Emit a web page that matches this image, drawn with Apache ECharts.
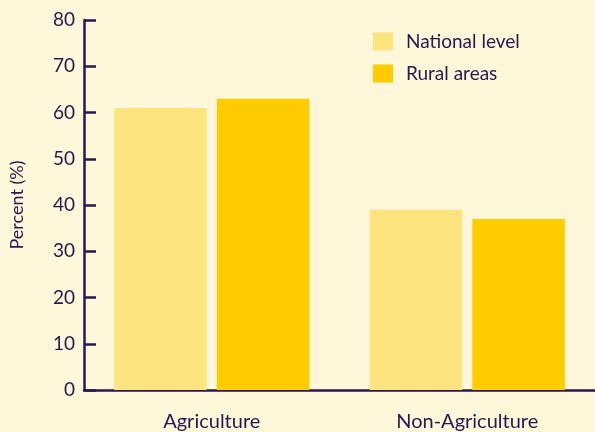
<!DOCTYPE html>
<html>
<head>
<meta charset="utf-8">
<script src="https://cdn.jsdelivr.net/npm/echarts@6/dist/echarts.min.js"></script>
<style>
html,body{margin:0;padding:0;background:#FFF7DA;}
#chart{width:595px;height:432px;}
</style>
</head>
<body>
<div id="chart"></div>
<script>
const categories = ['Agriculture', 'Non-Agriculture'];
const seriesNames = ['National level', 'Rural areas'];
const nationalLevel = [61, 39];
const ruralAreas = [63, 37];
const yTicks = [0, 10, 20, 30, 40, 50, 60, 70, 80];

const ink = '#2B1650';
const font = 'Lato, "Open Sans", sans-serif';
const chart = echarts.init(document.getElementById('chart'));
chart.setOption({
  backgroundColor: '#FFF7DA',
  animation: false,
  grid: { left: 82, right: 0, top: 20, bottom: 41, containLabel: false },
  legend: {
    orient: 'vertical', left: 373, top: 32, padding: 0,
    itemWidth: 20, itemHeight: 18, itemGap: 13,
    icon: 'rect',
    textStyle: { color: ink, fontSize: 19, fontFamily: font, padding: [0, 0, 0, 8] },
    data: seriesNames
  },
  xAxis: {
    type: 'category', data: categories,
    axisLine: { lineStyle: { color: ink, width: 2.5 } },
    axisTick: { inside: true, length: 8, lineStyle: { color: ink, width: 2 } },
    axisLabel: { color: ink, fontSize: 20, fontFamily: font, margin: 22 }
  },
  yAxis: {
    type: 'value', min: yTicks[0], max: yTicks[yTicks.length - 1], interval: 10,
    name: 'Percent (%)', nameLocation: 'middle', nameGap: 58, nameRotate: 90,
    nameTextStyle: { color: ink, fontSize: 18, fontFamily: font },
    splitLine: { show: false },
    axisLine: { show: true, lineStyle: { color: ink, width: 2.5 } },
    axisTick: { show: true, inside: true, length: 12, lineStyle: { color: ink, width: 2.5 } },
    axisLabel: { color: ink, fontSize: 19, fontFamily: font, margin: 9 }
  },
  series: [
    { name: seriesNames[0], type: 'bar', data: nationalLevel, barWidth: '36.2%', barGap: '11%',
      itemStyle: { color: '#FDE47F' } },
    { name: seriesNames[1], type: 'bar', data: ruralAreas, barWidth: '36.2%',
      itemStyle: { color: '#FFCC00' } }
  ]
});
</script>
</body>
</html>
